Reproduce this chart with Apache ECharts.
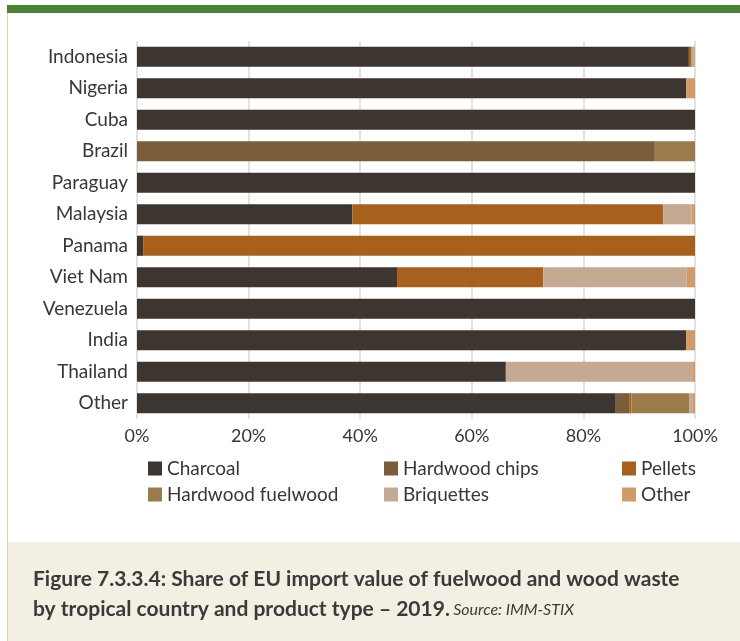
<!DOCTYPE html>
<html>
<head>
<meta charset="utf-8">
<script src="https://cdn.jsdelivr.net/npm/echarts@6/dist/echarts.min.js"></script>
<style>
  html, body { margin: 0; padding: 0; background: #fff; }
  #chart { width: 740px; height: 641px; }
</style>
</head>
<body>
<div id="chart"></div>
<script>
var countries = ['Indonesia', 'Nigeria', 'Cuba', 'Brazil', 'Paraguay', 'Malaysia', 'Panama', 'Viet Nam', 'Venezuela', 'India', 'Thailand', 'Other'];
var charcoal   = [98.9, 98.4, 100, 0, 100, 38.6, 1.1, 46.6, 100, 98.4, 66.1, 85.8];
var chips      = [0, 0, 0, 92.8, 0, 0, 0, 0, 0, 0, 0, 2.4];
var pellets    = [0.5, 0, 0, 0, 0, 55.7, 98.9, 26.2, 0, 0, 0, 0.4];
var fuelwood   = [0, 0, 0, 7.2, 0, 0, 0, 0, 0, 0, 0, 10.4];
var briquettes = [0.6, 0, 0, 0, 0, 5.1, 0, 25.7, 0, 0, 33.4, 0.5];
var otherType  = [0, 1.6, 0, 0, 0, 0.6, 0, 1.5, 0, 1.6, 0.5, 0.5];
var xTicks = [0, 20, 40, 60, 80, 100];

var fontName = 'Lato';
var textColor = '#3b3632';
var myChart = echarts.init(document.getElementById('chart'));

function bar(name, data, color) {
    return {
        name: name,
        type: 'bar',
        stack: 'total',
        barCategoryGap: '36%',
        itemStyle: { color: color },
        data: data
    };
}

function legendCol(left, names) {
    return {
        orient: 'vertical',
        left: left,
        top: 454,
        itemWidth: 14,
        itemHeight: 14,
        itemGap: 7,
        icon: 'rect',
        textStyle: { fontFamily: fontName, fontSize: 19, color: textColor },
        data: names
    };
}

var option = {
    animation: false,
    textStyle: { fontFamily: fontName },
    grid: { left: 137, right: 45, top: 41, bottom: 222 },
    legend: [
        legendCol(143, ['Charcoal', 'Hardwood fuelwood']),
        legendCol(379, ['Hardwood chips', 'Briquettes']),
        legendCol(617, ['Pellets', 'Other'])
    ],
    xAxis: {
        type: 'value',
        min: 0,
        max: 100,
        interval: 20,
        axisLine: { show: false },
        axisTick: { show: false },
        splitLine: { show: true, lineStyle: { color: '#e2e2e2', width: 2 } },
        axisLabel: {
            fontSize: 18,
            color: textColor,
            margin: 8,
            formatter: function (v) { return xTicks.indexOf(v) >= 0 ? v + '%' : ''; }
        }
    },
    yAxis: {
        type: 'category',
        inverse: true,
        data: countries,
        axisLine: { show: false },
        axisTick: { show: false },
        axisLabel: { fontSize: 19, color: textColor, margin: 9 }
    },
    series: [
        bar('Charcoal', charcoal, '#3d3530'),
        bar('Hardwood chips', chips, '#7b5d3b'),
        bar('Pellets', pellets, '#a8611c'),
        bar('Hardwood fuelwood', fuelwood, '#9b7a4b'),
        bar('Briquettes', briquettes, '#c4aa93'),
        bar('Other', otherType, '#d19b69')
    ],
    graphic: [
        { type: 'rect', shape: { x: 7, y: 5, width: 733, height: 8 }, style: { fill: '#4a8334' } },
        { type: 'rect', shape: { x: 7, y: 13, width: 1, height: 628 }, style: { fill: '#ddd6a6' } },
        { type: 'rect', shape: { x: 8, y: 542, width: 732, height: 99 }, style: { fill: '#f3efe3' } },
        {
            type: 'text', left: 33, top: 569,
            style: {
                text: 'Figure 7.3.3.4: Share of EU import value of fuelwood and wood waste',
                fontFamily: fontName, fontSize: 21, fontWeight: 'bold', fill: '#3a3a3a'
            }
        },
        {
            type: 'text', left: 33, top: 599,
            style: {
                text: '{b|by tropical country and product type – 2019.} {i|Source: IMM-STIX}',
                rich: {
                    b: { fontFamily: fontName, fontSize: 21, fontWeight: 'bold', fill: '#3a3a3a' },
                    i: { fontFamily: fontName, fontSize: 16, fontStyle: 'italic', fill: '#3a3a3a' }
                }
            }
        }
    ]
};
myChart.setOption(option);
window.addEventListener("resize", function () { myChart.resize(); });
</script>
</body>
</html>
